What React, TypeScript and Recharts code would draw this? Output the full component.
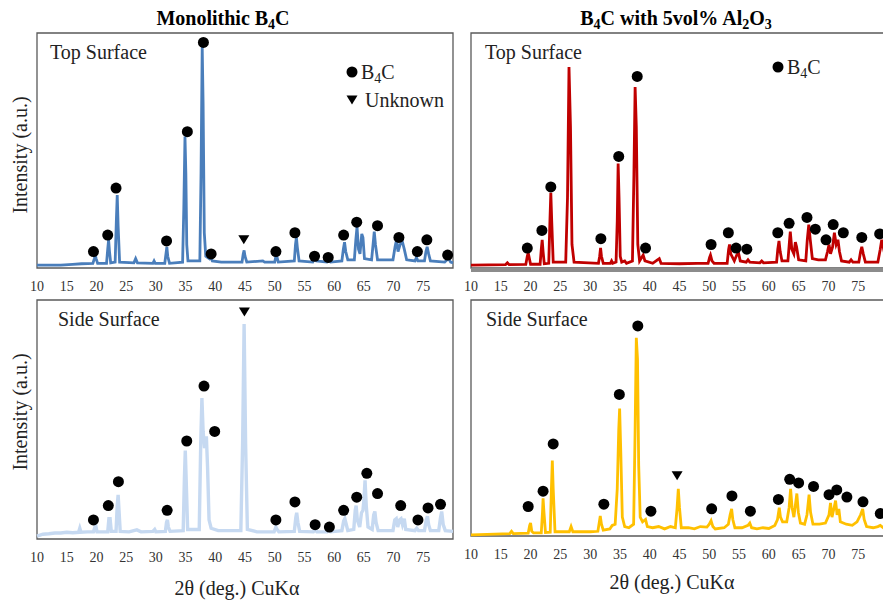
import React from 'react';
import { ComposedChart, Line, Scatter, XAxis, YAxis, ReferenceArea, ReferenceLine } from 'recharts';

// 2theta ticks shown under each panel
const TICKS = [10, 15, 20, 25, 30, 35, 40, 45, 50, 55, 60, 65, 70, 75];

// Monolithic B4C, top surface: [2theta, intensity]
const monoTop: [number, number][] = [
  [10, 1.2], [14, 1.2], [16, 1.5], [17.5, 1.8], [19.4, 2], [19.65, 4], [19.8, 5.5], [19.95, 4], [20.2, 2],
  [21.7, 2], [21.9, 8], [22.05, 12], [22.2, 7], [22.4, 2.2],
  [23.15, 2.5], [23.35, 20], [23.5, 31], [23.65, 18], [23.9, 2.5],
  [26.3, 2.2], [26.6, 4], [26.9, 2.2], [29.5, 2], [29.7, 3], [29.9, 2],
  [31.5, 2], [31.7, 6], [31.85, 9], [32.0, 5], [32.3, 2],
  [34.5, 2.5], [34.7, 25], [34.9, 56], [35.05, 40], [35.2, 10], [35.4, 3],
  [37.4, 3], [37.6, 40], [37.8, 94], [37.95, 70], [38.15, 15], [38.4, 5], [39, 4], [39.2, 5], [39.5, 3],
  [41, 2.5], [44.5, 2.5], [44.7, 6], [44.85, 7.5], [45.0, 5], [45.3, 2.5],
  [48, 3], [48.3, 2.5], [50.0, 2.5], [50.2, 5], [50.4, 4.5], [50.6, 2.5],
  [53.3, 3], [53.5, 10], [53.65, 13], [53.8, 9], [54.1, 3],
  [56.4, 2.5], [56.7, 4], [57.0, 3], [58.8, 2.5], [59.1, 3.2], [59.4, 2.5],
  [61.3, 3], [61.55, 8], [61.75, 11], [61.95, 7], [62.3, 3.5],
  [63.4, 3.5], [63.65, 12], [63.85, 17.5], [64.1, 8], [64.35, 6], [64.65, 14.5], [64.85, 13], [65.1, 4],
  [66.3, 3.5], [66.55, 10], [66.75, 15.5], [66.95, 10], [67.3, 3.5],
  [69.9, 3.5], [70.25, 9], [70.5, 12], [70.75, 7], [71.1, 10], [71.5, 11], [71.8, 8], [72.2, 3.5],
  [73.6, 3], [73.85, 4.5], [74.1, 3],
  [75.2, 3], [75.45, 7], [75.65, 9], [75.9, 6], [76.2, 3],
  [78.6, 2.5], [79.0, 3.5], [79.3, 3.8], [79.6, 2.5], [80, 2.2],
];

// B4C + 5vol% Al2O3, top surface
const compTop: [number, number][] = [
  [10, 1.2], [15.8, 1.4], [16.1, 2.2], [16.4, 1.4], [19.2, 1.5], [19.45, 5], [19.6, 6.5], [19.8, 4], [20.0, 1.6],
  [21.6, 1.6], [21.8, 8], [21.95, 12], [22.1, 7], [22.3, 1.8],
  [23.05, 2], [23.25, 20], [23.4, 32], [23.55, 20], [23.8, 2.5],
  [25.9, 2.5], [26.2, 30], [26.45, 85.5], [26.7, 60], [26.95, 10], [27.3, 2.5],
  [31.4, 2], [31.6, 5], [31.75, 8.5], [31.9, 5], [32.2, 2], [33.4, 2], [33.6, 3], [33.8, 2],
  [34.35, 2.5], [34.55, 20], [34.7, 44.5], [34.85, 30], [35.05, 5], [35.3, 2.5], [35.8, 3], [36.1, 2],
  [37.1, 3], [37.35, 40], [37.55, 77], [37.75, 60], [38.0, 10], [38.3, 3], [38.9, 5.5], [39.2, 3],
  [40.5, 2], [41.3, 3.5], [41.6, 4], [41.9, 2],
  [45, 1.8], [48, 2], [49.8, 2], [50.05, 4.5], [50.2, 5.5], [50.45, 3], [50.8, 2],
  [53.0, 2], [53.25, 8], [53.4, 10], [53.6, 6], [54.2, 3], [54.6, 5.5], [54.9, 6.5], [55.2, 3],
  [56.2, 2.5], [56.5, 3.5], [56.8, 2.5], [58.5, 2.2], [58.8, 3], [59.1, 2.2],
  [61.3, 2.5], [61.5, 8], [61.7, 11.5], [61.9, 7], [62.2, 3],
  [63.2, 3], [63.45, 11], [63.6, 15.5], [63.85, 8], [64.2, 6], [64.45, 11], [64.65, 9], [65.0, 3.5],
  [66.2, 3], [66.45, 12], [66.7, 18.5], [66.95, 12], [67.3, 4], [68.3, 3.5], [69.5, 3.5],
  [69.85, 7], [70.1, 10], [70.35, 6], [70.7, 9], [71.0, 15], [71.3, 10], [71.6, 12], [71.85, 7], [72.2, 3],
  [73.5, 2.5], [73.8, 3.5], [74.1, 2.5],
  [75.1, 2.5], [75.4, 7], [75.6, 9], [75.85, 6], [76.2, 2.5],
  [78.3, 2.5], [78.7, 8], [78.95, 12], [79.2, 9], [79.6, 4], [80, 3],
];

// Monolithic B4C, side surface
const monoSide: [number, number][] = [
  [10, 1.2], [11, 2], [12, 2.2], [13, 2.5], [14, 2.5], [15, 2.8], [16, 2.6], [17, 2.8], [17.2, 4.5], [17.4, 2.8], [18.5, 3],
  [19.5, 3], [19.75, 5], [19.9, 5.5], [20.1, 3],
  [21.9, 3], [22.1, 8.5], [22.3, 8.5], [22.5, 3.2],
  [23.3, 3.2], [23.5, 14], [23.65, 18.5], [23.8, 12], [24.0, 3.2],
  [25.5, 3], [26.8, 3.8], [27.5, 3], [29.5, 3.2], [29.8, 4], [30, 3],
  [31.6, 3.2], [31.8, 7], [31.95, 8], [32.1, 5], [32.4, 3.2],
  [34.6, 3.5], [34.8, 25], [34.95, 37], [35.1, 25], [35.35, 4],
  [37.3, 4], [37.55, 40], [37.75, 59], [37.95, 45], [38.2, 38], [38.5, 43], [38.7, 30], [38.95, 8], [39.3, 4.5],
  [40.5, 3.5], [42, 3.5], [44.3, 3.5], [44.6, 40], [44.85, 90], [45.1, 40], [45.4, 4],
  [47, 3], [49.9, 3], [50.2, 5], [50.4, 4], [50.7, 3],
  [53.3, 3.2], [53.55, 9], [53.7, 11], [53.9, 7], [54.2, 3.2],
  [56.5, 3], [56.8, 4], [57.1, 3], [58.8, 3], [59.1, 3.8], [59.4, 3],
  [61.3, 3.5], [61.6, 7.5], [61.8, 8.5], [62.0, 6.5], [62.3, 3.5],
  [63.3, 4], [63.55, 12], [63.7, 14], [63.9, 8], [64.3, 5], [64.6, 11], [64.85, 12], [65.0, 16], [65.2, 24.5], [65.4, 14], [65.7, 5],
  [66.4, 4], [66.65, 10], [66.85, 11.5], [67.05, 7], [67.4, 3.5],
  [69.9, 3.5], [70.2, 8], [70.45, 8.5], [70.7, 5], [71.0, 8], [71.25, 8.5], [71.5, 6], [71.8, 8.5], [72.05, 4],
  [73.6, 3.5], [73.9, 4.5], [74.2, 3.5],
  [75.2, 3.5], [75.5, 8], [75.7, 9.5], [75.9, 6], [76.2, 3.5],
  [77.6, 3.5], [77.9, 9], [78.1, 11.5], [78.35, 6], [78.7, 3.5], [80, 3.2],
];

// B4C + 5vol% Al2O3, side surface
const compSide: [number, number][] = [
  [10, 0.5], [14, 0.8], [16.5, 1], [16.8, 2], [17.1, 1], [19.6, 1.2], [19.85, 4.5], [20.0, 5.5], [20.2, 2], [20.5, 1.3],
  [21.8, 1.3], [22.0, 10], [22.1, 16], [22.25, 10], [22.5, 1.5],
  [23.3, 1.6], [23.5, 20], [23.65, 32], [23.8, 20], [24.1, 1.8],
  [26.5, 1.8], [26.8, 4], [27.1, 1.8], [30, 1.8],
  [31.3, 2], [31.55, 6], [31.7, 8.5], [31.9, 5], [32.2, 2.5], [33.3, 3], [33.7, 4.5], [34.2, 5],
  [34.55, 20], [34.8, 45], [34.95, 54], [35.15, 35], [35.4, 8], [35.8, 4], [36.5, 3.5],
  [37.3, 5], [37.55, 45], [37.75, 84], [37.95, 75], [38.15, 30], [38.4, 8], [38.8, 6], [39.3, 7], [39.6, 4],
  [40.5, 3.5], [41.5, 4], [42.5, 3], [43.5, 4], [44.3, 3.5], [44.6, 12], [44.8, 20], [45.0, 12], [45.3, 3.5],
  [46.5, 3.5], [47.5, 3], [48.5, 4], [49.6, 3.8], [50.0, 5], [50.3, 6.5], [50.6, 4], [51.0, 3],
  [52.5, 3.5], [53.2, 5], [53.5, 9], [53.75, 11.5], [53.95, 7], [54.3, 3.5],
  [55.5, 3.5], [56.5, 4.5], [56.8, 5.5], [57.1, 3.5], [58, 3], [59, 3.5], [60, 3.2], [61, 4.5],
  [61.45, 7], [61.75, 12], [61.95, 8], [62.3, 6], [63.0, 6], [63.4, 12], [63.65, 20], [63.9, 12], [64.2, 8],
  [64.5, 14], [64.7, 18], [64.95, 10], [65.3, 5.5], [66.0, 5], [66.4, 9], [66.75, 17.5], [67.0, 10], [67.4, 5],
  [68.5, 5], [69.5, 5.5], [70.1, 9], [70.35, 14], [70.6, 8], [70.95, 12], [71.2, 15], [71.45, 9], [71.75, 11.5], [72.0, 6],
  [73, 5], [74, 4.5], [74.8, 6], [75.4, 9], [75.75, 11.5], [76.0, 7], [76.4, 4],
  [77.5, 3.5], [78.3, 4], [78.7, 4.5], [79.2, 3.5], [80, 4],
];

// phase markers: B4C (circle) and unknown (triangle)
const monoTopB4C: [number, number][] = [
  [19.5, 7], [21.9, 14], [23.3, 34], [31.8, 11.5], [35.3, 58], [38.0, 96], [39.3, 6], [50.2, 7], [53.4, 15],
  [56.7, 5], [59.0, 4.5], [61.6, 14], [63.8, 19.5], [67.3, 18], [70.9, 13], [74.0, 7], [75.6, 12], [79.1, 5.5],
];
const monoTopUnk: [number, number][] = [[44.8, 12]];

const compTopB4C: [number, number][] = [
  [19.45, 8.5], [21.9, 16], [23.4, 34.5], [31.8, 12.5], [34.8, 47.5], [37.9, 81.5], [39.3, 8.5], [50.3, 10],
  [53.2, 15], [54.5, 8.5], [56.3, 8], [61.5, 15], [63.4, 19], [66.4, 21.5], [67.8, 16.5], [69.6, 12],
  [70.8, 18.5], [72.5, 15], [75.6, 13], [78.6, 14.5],
];

const monoSideB4C: [number, number][] = [
  [19.5, 8], [22.0, 14], [23.7, 24], [31.9, 12], [35.2, 41], [38.1, 64], [39.9, 45], [50.2, 8], [53.4, 15.5],
  [56.8, 6], [59.2, 5], [61.6, 12], [63.8, 17.5], [65.5, 27.5], [67.3, 19], [71.2, 14], [74.1, 8], [75.8, 13], [77.9, 14.5],
];
const monoSideUnk: [number, number][] = [[44.9, 95]];

const compSideB4C: [number, number][] = [
  [19.6, 12.5], [22.1, 19], [23.8, 39], [32.3, 13.5], [34.9, 60], [38.0, 89], [40.2, 10.5], [50.4, 11.5],
  [53.8, 17], [56.9, 10.5], [61.6, 15.5], [63.5, 24], [65.0, 22.5], [67.5, 21], [70.1, 17.5], [71.4, 19.5],
  [73.1, 16.5], [75.8, 14.5], [78.7, 9.5],
];
const compSideUnk: [number, number][] = [[44.6, 25.5]];

const FONT = "'Liberation Serif', 'Times New Roman', serif";
const ML = 20, MR = 20, MT = 10, XH = 40;

const toRows = (pts: [number, number][]) => pts.map(([x, y]) => ({ x, y }));

const Dot = (p: any) => <circle cx={p.cx} cy={p.cy} r={5.5} fill="#000" />;
const Tri = (p: any) => (
  <path d={`M${p.cx - 5.5},${p.cy - 4.5}L${p.cx + 5.5},${p.cy - 4.5}L${p.cx},${p.cy + 4.5}Z`} fill="#000" />
);

interface PanelProps {
  box: { left: number; top: number; width: number; height: number };
  pattern: [number, number][];
  color: string;
  strokeWidth: number;
  circles: [number, number][];
  triangles?: [number, number][];
  greyBase?: boolean;
}

const Panel: React.FC<PanelProps> = ({ box, pattern, color, strokeWidth, circles, triangles, greyBase }) => (
  <div style={{ position: 'absolute', left: box.left - ML, top: box.top - MT, fontFamily: FONT }}>
    <ComposedChart
      width={box.width + ML + MR}
      height={box.height + MT + XH}
      margin={{ top: MT, right: MR, bottom: 0, left: ML }}
    >
      <XAxis
        dataKey="x"
        type="number"
        domain={[10, 80]}
        ticks={TICKS}
        interval={0}
        height={XH}
        axisLine={false}
        tickLine={false}
        tickSize={0}
        tickMargin={13}
        tick={{ fontSize: 14, fill: '#333', fontFamily: FONT }}
      />
      <YAxis dataKey="y" type="number" domain={[0, 100]} hide />
      <ReferenceArea x1={10} x2={80} y1={0} y2={100} fill="none" stroke="#595959" strokeWidth={1.3} />
      {greyBase && <ReferenceLine y={-0.8} stroke="#8c8c8c" strokeWidth={4} ifOverflow="visible" />}
      <Line
        data={toRows(pattern)}
        dataKey="y"
        type="linear"
        stroke={color}
        strokeWidth={strokeWidth}
        dot={false}
        isAnimationActive={false}
      />
      <Scatter data={toRows(circles)} dataKey="y" shape={Dot} isAnimationActive={false} />
      {triangles && <Scatter data={toRows(triangles)} dataKey="y" shape={Tri} isAnimationActive={false} />}
    </ComposedChart>
  </div>
);

const abs = (left: number, top: number, extra: React.CSSProperties = {}): React.CSSProperties => ({
  position: 'absolute', left, top, fontFamily: FONT, color: '#000', whiteSpace: 'nowrap', lineHeight: 1, ...extra,
});

const sub: React.CSSProperties = { fontSize: '0.7em', verticalAlign: '-0.25em', lineHeight: 0 };

const YLabel = ({ cx, cy }: { cx: number; cy: number }) => (
  <div style={abs(cx, cy, { fontSize: 20, transform: 'translate(-50%, -50%) rotate(-90deg)', color: '#222' })}>
    Intensity (a.u.)
  </div>
);

const XLabel = ({ cx, cy }: { cx: number; cy: number }) => (
  <div style={abs(cx, cy, { fontSize: 20, transform: 'translate(-50%, -50%)', color: '#222' })}>
    2θ (deg.) CuKα
  </div>
);

// legend key: marker glyph + label
const Key = ({ x, y, kind, children }: { x: number; y: number; kind: 'dot' | 'tri'; children: React.ReactNode }) => (
  <>
    <svg style={{ position: 'absolute', left: x - 6, top: y - 6 }} width={12} height={12}>
      {kind === 'dot' ? <circle cx={6} cy={6} r={5.5} fill="#000" /> : <path d="M0.5,1.5L11.5,1.5L6,10.5Z" fill="#000" />}
    </svg>
    <div style={abs(x + (kind === 'dot' ? 9 : 13), y, { fontSize: 20, transform: 'translateY(-50%)', color: '#222' })}>
      {children}
    </div>
  </>
);

export default function App() {
  return (
    <div style={{ position: 'absolute', left: 0, top: 0, width: 883, height: 603, overflow: 'hidden', background: '#fff' }}>
      <Panel box={{ left: 37, top: 33, width: 416, height: 235 }} pattern={monoTop} color="#4a7ebb" strokeWidth={2.8}
        circles={monoTopB4C} triangles={monoTopUnk} />
      <Panel box={{ left: 471, top: 33, width: 417, height: 235 }} pattern={compTop} color="#c00000" strokeWidth={2.8}
        circles={compTopB4C} greyBase />
      <Panel box={{ left: 37, top: 300, width: 416, height: 239 }} pattern={monoSide} color="#c6d9f1" strokeWidth={3.4}
        circles={monoSideB4C} triangles={monoSideUnk} />
      <Panel box={{ left: 471, top: 300, width: 417, height: 236 }} pattern={compSide} color="#ffc000" strokeWidth={2.8}
        circles={compSideB4C} triangles={compSideUnk} />

      <div style={abs(223, 18, { fontSize: 20, fontWeight: 'bold', transform: 'translate(-50%, -50%)' })}>
        Monolithic B<span style={sub}>4</span>C
      </div>
      <div style={abs(676, 18, { fontSize: 20, fontWeight: 'bold', transform: 'translate(-50%, -50%)' })}>
        B<span style={sub}>4</span>C with 5vol% Al<span style={sub}>2</span>O<span style={sub}>3</span>
      </div>

      <div style={abs(50, 52, { fontSize: 20, transform: 'translateY(-50%)', color: '#222' })}>Top Surface</div>
      <div style={abs(485, 52, { fontSize: 20, transform: 'translateY(-50%)', color: '#222' })}>Top Surface</div>
      <div style={abs(58, 319, { fontSize: 20, transform: 'translateY(-50%)', color: '#222' })}>Side Surface</div>
      <div style={abs(486, 319, { fontSize: 20, transform: 'translateY(-50%)', color: '#222' })}>Side Surface</div>

      <Key x={352} y={72} kind="dot">B<span style={sub}>4</span>C</Key>
      <Key x={352} y={100} kind="tri">Unknown</Key>
      <Key x={778} y={67} kind="dot">B<span style={sub}>4</span>C</Key>

      <YLabel cx={20} cy={155} />
      <YLabel cx={20} cy={412} />
      <XLabel cx={237} cy={588} />
      <XLabel cx={672} cy={582} />
    </div>
  );
}
